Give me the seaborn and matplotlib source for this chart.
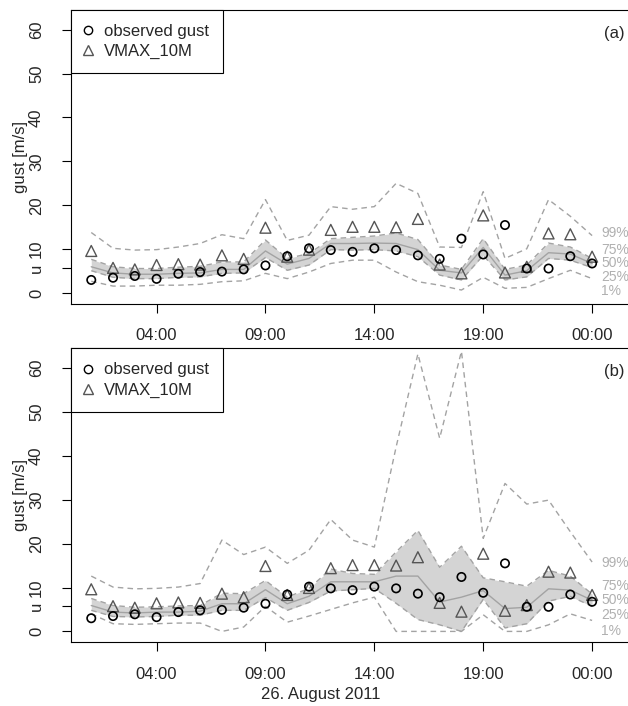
import matplotlib
matplotlib.use("Agg")
import matplotlib.pyplot as plt
from matplotlib.lines import Line2D
import seaborn as sns
import numpy as np

# hourly lead times (hour of day, 24 = midnight of the next day)
hours = list(range(1, 25))
tick_hours = [4, 9, 14, 19, 24]
tick_labels = ["04:00", "09:00", "14:00", "19:00", "00:00"]
date_label = "26. August 2011"

observed_gust = [3.0, 3.5, 3.9, 3.25, 4.4, 4.8, 4.9, 5.4, 6.3, 8.4, 10.2, 9.8,
                 9.4, 10.2, 9.8, 8.6, 7.8, 12.4, 8.8, 15.5, 5.6, 5.6, 8.4, 6.75]
vmax_10m = [9.6, 5.75, 5.4, 6.4, 6.6, 6.5, 8.6, 7.8, 14.9, 8.3, 9.9, 14.4,
            15.1, 15.1, 15.0, 16.9, 6.5, 4.5, 17.7, 4.7, 6.0, 13.6, 13.4, 8.3]

# predictive quantiles, panel (a)
a_q99 = [13.8, 10.2, 9.8, 9.9, 10.5, 11.3, 13.3, 12.4, 21.3, 12.0, 13.2, 19.7,
         19.1, 19.7, 25.0, 22.7, 10.5, 10.4, 23.1, 7.9, 10.1, 21.3, 17.5, 13.1]
a_q75 = [7.7, 6.0, 5.6, 5.6, 5.9, 6.1, 7.1, 7.1, 12.1, 7.9, 9.0, 12.4,
         12.7, 13.0, 13.7, 12.2, 6.4, 5.4, 12.4, 5.4, 6.4, 11.4, 10.5, 7.9]
a_q50 = [6.0, 4.6, 4.3, 4.3, 4.5, 4.6, 5.4, 5.4, 9.6, 6.6, 7.9, 11.3,
         11.3, 11.4, 11.3, 9.9, 5.2, 4.6, 10.4, 4.1, 5.1, 9.2, 8.9, 6.75]
a_q25 = [5.1, 3.6, 3.3, 3.3, 3.6, 3.7, 4.5, 4.6, 8.1, 5.2, 6.4, 9.9,
         9.8, 9.9, 9.6, 8.3, 4.1, 3.0, 8.6, 3.0, 3.7, 7.9, 7.5, 5.8]
a_q01 = [2.7, 1.6, 1.6, 1.8, 1.8, 2.0, 2.6, 2.8, 4.5, 3.3, 4.8, 6.75,
         7.5, 7.5, 4.8, 2.6, 1.8, 0.7, 3.6, 1.1, 1.3, 3.3, 5.2, 3.3]

# predictive quantiles, panel (b)
b_q99 = [12.6, 10.1, 9.7, 9.8, 10.1, 10.9, 20.8, 17.5, 19.2, 15.5, 18.5, 25.5,
         20.8, 19.2, 42.0, 63.2, 44.0, 63.8, 21.2, 33.7, 29.0, 29.9, 22.7, 15.8]
b_q75 = [7.5, 5.9, 5.5, 5.6, 5.8, 5.9, 8.7, 8.6, 11.6, 7.8, 9.8, 14.2,
         13.2, 13.0, 18.1, 23.0, 14.6, 19.4, 12.2, 11.3, 10.3, 13.9, 12.6, 8.5]
b_q50 = [5.9, 4.4, 4.2, 4.4, 4.4, 4.6, 6.3, 6.3, 9.5, 6.3, 8.0, 11.3,
         11.3, 11.3, 12.6, 12.6, 6.7, 7.8, 9.3, 5.2, 5.5, 9.7, 9.4, 7.1]
b_q25 = [4.8, 3.4, 3.3, 3.4, 3.7, 3.7, 4.8, 4.8, 7.7, 4.8, 6.6, 9.2,
         9.5, 9.8, 6.4, 2.7, 1.5, 0.0, 7.3, 0.8, 1.75, 6.9, 8.0, 5.7]
b_q01 = [4.0, 1.75, 1.6, 1.75, 1.9, 1.9, 0.0, 1.0, 5.7, 2.1, 3.5, 5.0,
         6.5, 7.8, 0.0, 0.0, 0.0, 0.0, 3.8, 0.0, 0.0, 1.5, 4.0, 2.5]

quantile_names = ["99%", "75%", "50%", "25%", "1%"]
u_level = 5.75
y_ticks = [0, u_level, 10, 20, 30, 40, 50, 60]
y_tick_labels = ["0", "u", "10", "20", "30", "40", "50", "60"]

sns.set_style("ticks")
plt.rcParams["font.family"] = ["Liberation Sans", "DejaVu Sans"]
plt.rcParams["font.size"] = 12

W, H = 628, 706
fig = plt.figure(figsize=(W / 100, H / 100), dpi=100)

LINE_GREY = "#a3a3a3"
BAND_GREY = "#d4d4d4"
LABEL_GREY = "#b0b0b0"
TRI_GREY = "#555555"


def px_axes(left, top, right, bottom):
    return fig.add_axes([left / W, 1 - bottom / H, (right - left) / W, (bottom - top) / H])


def draw_panel(ax, q99, q75, q50, q25, q01, tag, label_pos):
    ax.fill_between(hours, q25, q75, color=BAND_GREY, lw=0, zorder=1)
    for q in (q99, q75, q25, q01):
        sns.lineplot(x=hours, y=q, ax=ax, color=LINE_GREY, lw=1.0,
                     linestyle=(0, (4, 3)), zorder=2)
    sns.lineplot(x=hours, y=q50, ax=ax, color=LINE_GREY, lw=1.0, zorder=2)
    sns.scatterplot(x=hours, y=vmax_10m, ax=ax, marker="^", s=62,
                    facecolor="none", edgecolor=TRI_GREY, linewidth=1.0, zorder=3)
    sns.scatterplot(x=hours, y=observed_gust, ax=ax, marker="o", s=36,
                    facecolor="none", edgecolor="black", linewidth=1.2, zorder=4)

    ax.set_xlim(0.07, 26.2)
    ax.set_ylim(-2.48, 64.48)
    ax.set_xticks(tick_hours)
    ax.set_xticklabels(tick_labels)
    ax.set_yticks(y_ticks)
    ax.set_yticklabels(y_tick_labels)
    for lab in ax.get_yticklabels():
        lab.set_rotation(90)
        lab.set_va("center")
    ax.yaxis.get_major_ticks()[1].tick1line.set_color("#808080")
    ax.tick_params(axis="both", direction="out", length=6.5, width=0.8,
                   color="black", labelsize=12)
    ax.tick_params(axis="y", pad=13)
    ax.tick_params(axis="x", pad=11)
    ax.set_ylabel("gust [m/s]", fontsize=12, labelpad=1)
    ax.set_xlabel("")
    for s in ax.spines.values():
        s.set_visible(True)
        s.set_linewidth(0.8)
        s.set_color("black")

    for name, yv in zip(quantile_names, label_pos):
        ax.text(24.43, yv, name, color=LABEL_GREY, fontsize=10,
                ha="left", va="center", clip_on=False)
    ax.text(25.5, 59.2, tag, fontsize=12, ha="right", va="center")

    handles = [
        Line2D([], [], marker="o", ls="", mfc="none", mec="black", ms=6, mew=1.0),
        Line2D([], [], marker="^", ls="", mfc="none", mec=TRI_GREY, ms=7, mew=1.0),
    ]
    leg = ax.legend(handles, ["observed gust", "VMAX_10M"], loc="upper left",
                    borderaxespad=0, fancybox=False, framealpha=1,
                    edgecolor="black", borderpad=0.85, handlelength=0.3,
                    handletextpad=0.8, labelspacing=0.3, fontsize=12)
    leg.get_frame().set_linewidth(0.8)


ax_a = px_axes(71, 10, 640, 304)
draw_panel(ax_a, a_q99, a_q75, a_q50, a_q25, a_q01, "(a)",
           [13.6, 9.8, 6.8, 3.6, 0.45])

ax_b = px_axes(71, 348.3, 640, 642.3)
draw_panel(ax_b, b_q99, b_q75, b_q50, b_q25, b_q01, "(b)",
           [15.6, 10.3, 7.1, 3.7, 0.2])

fig.text(321 / W, 1 - 695 / H, date_label, fontsize=12, ha="center", va="center")

fig.savefig("out.png", dpi=100)
